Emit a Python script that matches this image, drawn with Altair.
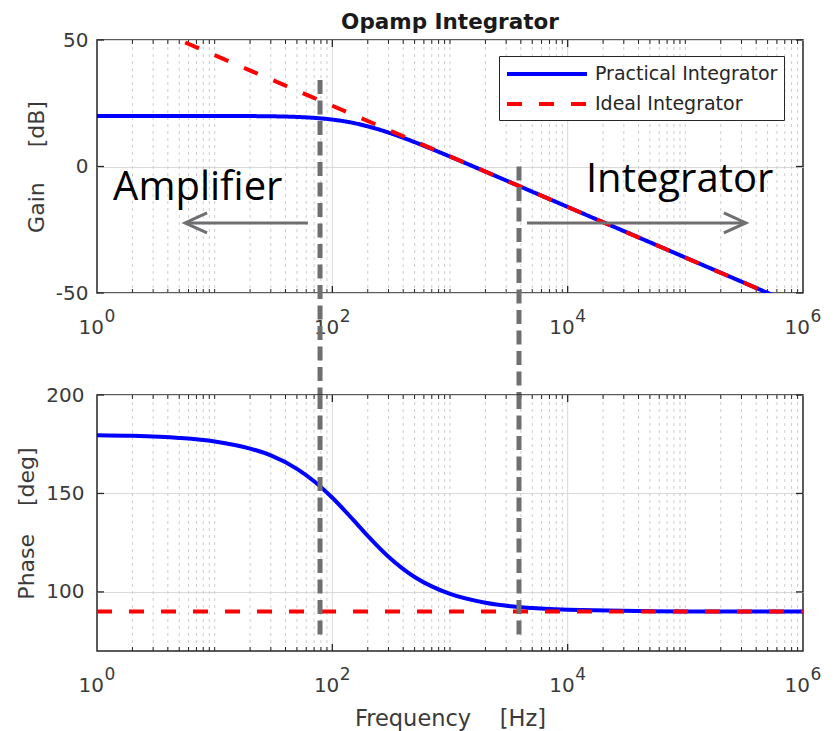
import altair as alt
import pandas as pd

# ---------------- data ----------------
FREQ = [1, 2, 5, 10, 20, 30, 50, 70, 100, 150, 200, 300, 500, 700,
        1000, 2000, 5000, 10000, 100000, 1000000]
GAIN_PRACTICAL = [20.0, 20.0, 20.0, 19.98, 19.93, 19.85, 19.59, 19.23, 18.55,
                  17.24, 15.88, 13.41, 9.63, 6.91, 3.92, -2.02, -9.96, -15.98,
                  -35.97, -55.97]
PHASE_PRACTICAL = [179.6, 179.3, 178.2, 176.4, 172.8, 169.3, 162.5, 156.2,
                   147.8, 136.7, 128.5, 117.9, 107.6, 102.8, 99.0, 94.5, 91.8,
                   90.9, 90.1, 90.0]
FREQ_IDEAL = [1, 10, 100, 1000, 10000, 100000, 1000000]
GAIN_IDEAL = [64.0, 44.0, 24.0, 4.0, -16.0, -36.0, -56.0]
PHASE_IDEAL = [90.0, 90.0, 90.0, 90.0, 90.0, 90.0, 90.0]

SERIES = ["Practical Integrator", "Ideal Integrator"]

# x ticks / grid
X_MAJOR_TICKS = [1, 100, 10000, 1000000]
X_TICK_EXPONENTS = ["0", "2", "4", "6"]
X_MAJOR_GRID = [100, 10000]
MANTISSA = [2, 3, 4, 5, 6, 7, 8, 9]
DECADES = [1, 10, 100, 1000, 10000, 100000]
X_MINOR = [m * d for d in DECADES for m in MANTISSA] + [10, 1000, 100000]

GAIN_TICKS = [-50, 0, 50]
PHASE_TICKS = [100, 150, 200]

# annotations (positions, in data units)
SPLIT_FREQ = [78.6, 3857]
SPLIT_GAIN_TOP = [34.2, 0.0]
SPLIT_GAIN_BOTTOM = [-90.3, -90.3]
SPLIT_PHASE_TOP = [200, 200]
SPLIT_PHASE_BOTTOM = [76.1, 76.1]

ARROW_TAIL = [62, 4510]
ARROW_TIP = [5.6, 327000]
ARROW_GAIN = [-22.3, -22.3]

LABEL_TEXT = ["Amplifier", "Integrator"]
LABEL_FREQ = [1.37, 14300]
LABEL_GAIN = [-13.2, -10.0]

# ---------------- style ----------------
FONT = "DejaVu Sans"
TXT = "#3a3a3a"
GREY = "#6f6f72"
W = 706
H_TOP = 253
H_BOT = 256
NB = "\u00a0"

X_SCALE = alt.Scale(type="log", domain=[1, 1e6], nice=False)
Y_TOP = alt.Scale(domain=[-50, 50], nice=False, zero=False)
Y_BOT = alt.Scale(domain=[70, 200], nice=False, zero=False)


def x_axis(title=None):
    kw = dict(values=X_MAJOR_TICKS, labelExpr="'10'", grid=False, ticks=False,
              domain=False, tickSize=0, labelPadding=40, labelBaseline="alphabetic",
              labelAlign="right", labelOffset=6.5, labelFlush=False,
              labelOverlap=False, labelFont=FONT, labelFontSize=20,
              labelColor=TXT)
    if title is None:
        kw["title"] = None
    else:
        kw.update(title=title, titleFont=FONT, titleFontSize=22.5,
                  titleFontWeight="normal", titleColor=TXT,
                  titleBaseline="alphabetic", titleY=74)
    return alt.Axis(**kw)


def y_axis(values, title, title_x, title_y, pad):
    return alt.Axis(values=values, grid=True, gridColor="#d9d9d9", gridWidth=1,
                    ticks=False, tickSize=0, domain=False, labelPadding=pad,
                    labelExpr="datum.value < 0 ? '-' + toString(abs(datum.value)) : toString(datum.value)",
                    labelFont=FONT, labelFontSize=20, labelColor=TXT,
                    title=title, titleFont=FONT, titleFontSize=22,
                    titleFontWeight="normal", titleColor=TXT,
                    titleBaseline="alphabetic", titleAlign="center",
                    titleX=title_x, titleY=title_y)


def frame_layers(h, xax, yscale, yax, yticks):
    minor_df = pd.DataFrame({"f": X_MINOR})
    major_df = pd.DataFrame({"f": X_MAJOR_GRID})
    ytick_df = pd.DataFrame({"v": yticks})
    exp_df = pd.DataFrame({"f": X_MAJOR_TICKS, "e": X_TICK_EXPONENTS})
    X = lambda: alt.X("f:Q", scale=X_SCALE, axis=xax)
    layers = [
        alt.Chart(minor_df).mark_rule(color="#cdcdcd", strokeWidth=1, strokeDash=[3, 4]).encode(
            x=X(), y=alt.value(0), y2=alt.value(h)),
        alt.Chart(major_df).mark_rule(color="#d9d9d9", strokeWidth=1).encode(
            x=X(), y=alt.value(0), y2=alt.value(h)),
        # inward edge ticks (bottom / top)
        alt.Chart(minor_df).mark_rule(color="#262626", strokeWidth=1).encode(
            x=X(), y=alt.value(h), y2=alt.value(h - 4)),
        alt.Chart(minor_df).mark_rule(color="#262626", strokeWidth=1).encode(
            x=X(), y=alt.value(0), y2=alt.value(4)),
        alt.Chart(major_df).mark_rule(color="#262626", strokeWidth=1.3).encode(
            x=X(), y=alt.value(h), y2=alt.value(h - 7)),
        alt.Chart(major_df).mark_rule(color="#262626", strokeWidth=1.3).encode(
            x=X(), y=alt.value(0), y2=alt.value(7)),
        # inward edge ticks (left / right)
        alt.Chart(ytick_df).mark_rule(color="#262626", strokeWidth=1.3).encode(
            y=alt.Y("v:Q", scale=yscale, axis=yax), x=alt.value(0), x2=alt.value(7)),
        alt.Chart(ytick_df).mark_rule(color="#262626", strokeWidth=1.3).encode(
            y=alt.Y("v:Q", scale=yscale, axis=yax), x=alt.value(W - 7), x2=alt.value(W)),
        # exponents of the decade tick labels
        alt.Chart(exp_df).mark_text(font=FONT, fontSize=17, color=TXT, align="left",
                                    baseline="alphabetic", dx=7.5).encode(
            x=X(), y=alt.value(h + 29), text="e:N"),
    ]
    return layers


LEGEND = alt.Legend(title=None, orient="none", legendX=402, legendY=16,
                    symbolType="M-1,0H7", symbolSize=400, symbolStrokeWidth=4,
                    labelFont=FONT, labelFontSize=19, labelColor="#262626",
                    labelOffset=66, labelLimit=400, padding=6, rowPadding=8,
                    strokeColor="#262626", fillColor="white")
COLOR = alt.Scale(domain=SERIES, range=["#0000ff", "#ff0000"])
DASH = alt.Scale(domain=SERIES, range=[[1, 0], [15, 17]])

# ---------------- top panel ----------------
xa_top = x_axis()
ya_top = y_axis(GAIN_TICKS, "Gain" + NB * 5 + "[dB]", -54, H_TOP / 2, 9)

prac_top = pd.DataFrame({"f": FREQ, "v": GAIN_PRACTICAL, "series": SERIES[0]})
ideal_top = pd.DataFrame({"f": FREQ_IDEAL, "v": GAIN_IDEAL, "series": SERIES[1]})


def series_line(df, yscale, yax, xax):
    return alt.Chart(df).mark_line(clip=True, strokeWidth=4, interpolate="monotone").encode(
        x=alt.X("f:Q", scale=X_SCALE, axis=xax),
        y=alt.Y("v:Q", scale=yscale, axis=yax),
        color=alt.Color("series:N", scale=COLOR, legend=LEGEND),
        strokeDash=alt.StrokeDash("series:N", scale=DASH, legend=LEGEND),
    )


split_top = pd.DataFrame({"f": SPLIT_FREQ, "v": SPLIT_GAIN_TOP, "v2": SPLIT_GAIN_BOTTOM})
arrows = pd.DataFrame({"tail": ARROW_TAIL, "tip": ARROW_TIP, "v": ARROW_GAIN})
labels = pd.DataFrame({"text": LABEL_TEXT, "f": LABEL_FREQ, "v": LABEL_GAIN})

top_layers = frame_layers(H_TOP, xa_top, Y_TOP, ya_top, GAIN_TICKS) + [
    series_line(prac_top, Y_TOP, ya_top, xa_top),
    series_line(ideal_top, Y_TOP, ya_top, xa_top),
    alt.Chart(split_top).mark_rule(color=GREY, strokeWidth=5, strokeDash=[14, 6.5]).encode(
        x=alt.X("f:Q", scale=X_SCALE, axis=xa_top),
        y=alt.Y("v:Q", scale=Y_TOP, axis=ya_top), y2="v2:Q"),
    alt.Chart(arrows).mark_rule(color=GREY, strokeWidth=3).encode(
        x=alt.X("tail:Q", scale=X_SCALE, axis=xa_top), x2="tip:Q",
        y=alt.Y("v:Q", scale=Y_TOP, axis=ya_top)),
    alt.Chart(arrows.iloc[[0]]).mark_point(shape="M2.2,-1L0,0L2.2,1", filled=False, size=400,
                                           strokeWidth=3, color=GREY, opacity=1).encode(
        x=alt.X("tip:Q", scale=X_SCALE, axis=xa_top),
        y=alt.Y("v:Q", scale=Y_TOP, axis=ya_top)),
    alt.Chart(arrows.iloc[[1]]).mark_point(shape="M-2.2,-1L0,0L-2.2,1", filled=False, size=400,
                                           strokeWidth=3, color=GREY, opacity=1).encode(
        x=alt.X("tip:Q", scale=X_SCALE, axis=xa_top),
        y=alt.Y("v:Q", scale=Y_TOP, axis=ya_top)),
    alt.Chart(labels).mark_text(font="Open Sans", fontSize=40, align="left",
                                baseline="alphabetic", color="black").encode(
        x=alt.X("f:Q", scale=X_SCALE, axis=xa_top),
        y=alt.Y("v:Q", scale=Y_TOP, axis=ya_top), text="text:N"),
]

top = alt.layer(*top_layers).properties(
    width=W, height=H_TOP,
    title=alt.TitleParams("Opamp Integrator", font=FONT, fontSize=21.5, fontWeight="bold",
                          color="#1a1a1a", anchor="middle", offset=-3),
)

# ---------------- bottom panel ----------------
xa_bot = x_axis(title="Frequency" + NB * 4 + "[Hz]")
ya_bot = y_axis(PHASE_TICKS, "Phase" + NB * 4 + "[deg]", -64, H_BOT / 2, 13)

prac_bot = pd.DataFrame({"f": FREQ, "v": PHASE_PRACTICAL})
ideal_bot = pd.DataFrame({"f": FREQ_IDEAL, "v": PHASE_IDEAL})
split_bot = pd.DataFrame({"f": SPLIT_FREQ, "v": SPLIT_PHASE_TOP, "v2": SPLIT_PHASE_BOTTOM})

bot_layers = frame_layers(H_BOT, xa_bot, Y_BOT, ya_bot, PHASE_TICKS) + [
    alt.Chart(prac_bot).mark_line(clip=True, strokeWidth=4, interpolate="monotone", color="#0000ff").encode(
        x=alt.X("f:Q", scale=X_SCALE, axis=xa_bot),
        y=alt.Y("v:Q", scale=Y_BOT, axis=ya_bot)),
    alt.Chart(ideal_bot).mark_line(clip=True, strokeWidth=4, color="#ff0000", strokeDash=[15, 17]).encode(
        x=alt.X("f:Q", scale=X_SCALE, axis=xa_bot),
        y=alt.Y("v:Q", scale=Y_BOT, axis=ya_bot)),
    alt.Chart(split_bot).mark_rule(color=GREY, strokeWidth=5, strokeDash=[14, 6.5]).encode(
        x=alt.X("f:Q", scale=X_SCALE, axis=xa_bot),
        y=alt.Y("v:Q", scale=Y_BOT, axis=ya_bot), y2="v2:Q"),
]

bottom = alt.layer(*bot_layers).properties(width=W, height=H_BOT)

chart = alt.vconcat(top, bottom, spacing=102, bounds="flush").properties(
    padding={"left": 14, "top": 10, "right": 5, "bottom": 5},
    background="white",
).configure_view(stroke="#262626", strokeWidth=1.5)

chart.save("out.html", embed_options={"renderer": "svg", "actions": False})
